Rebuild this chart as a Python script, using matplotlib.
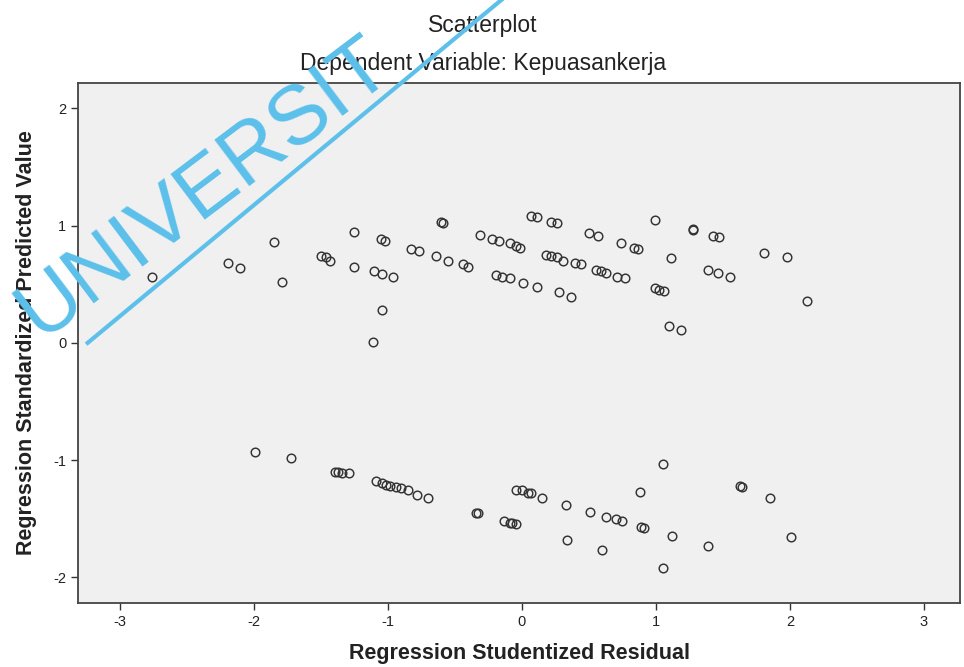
import matplotlib
matplotlib.use("Agg")
import matplotlib.pyplot as plt
from matplotlib import font_manager
from matplotlib.lines import Line2D

# --- Data ---
resid_upper = [-2.76, -2.19, -2.10, -1.85, -1.79, -1.50, -1.46, -1.43, -1.25, -1.25,
               -1.05, -1.02, -1.10, -1.04, -0.96, -1.04, -1.11, -0.60, -0.59, -0.83,
               -0.77, -0.64, -0.55, -0.44, -0.40, -0.31, -0.22, -0.17, -0.09, -0.04,
               -0.01, 0.07, 0.11, 0.22, 0.26, -0.19, -0.15, -0.09, 0.01, 0.11,
               0.18, 0.22, 0.26, 0.31, 0.40, 0.44, 0.28, 0.37, 0.50, 0.57,
               0.74, 0.84, 0.87, 0.55, 0.59, 0.63, 0.71, 0.77, 0.99, 0.99,
               1.02, 1.06, 1.11, 1.28, 1.28, 1.43, 1.47, 1.39, 1.46, 1.55,
               1.81, 1.98, 2.13, 1.10, 1.19]
pred_upper = [0.56, 0.68, 0.64, 0.86, 0.52, 0.74, 0.73, 0.70, 0.95, 0.65,
              0.89, 0.87, 0.61, 0.59, 0.56, 0.28, 0.01, 1.03, 1.02, 0.80,
              0.78, 0.74, 0.70, 0.67, 0.65, 0.92, 0.89, 0.87, 0.85, 0.83,
              0.81, 1.08, 1.07, 1.03, 1.02, 0.58, 0.56, 0.55, 0.51, 0.48,
              0.75, 0.74, 0.73, 0.70, 0.68, 0.67, 0.43, 0.39, 0.94, 0.91,
              0.85, 0.81, 0.80, 0.62, 0.61, 0.60, 0.56, 0.55, 1.05, 0.47,
              0.45, 0.44, 0.72, 0.97, 0.96, 0.91, 0.90, 0.62, 0.60, 0.56,
              0.77, 0.73, 0.36, 0.14, 0.11]
resid_lower = [-1.99, -1.72, -1.39, -1.37, -1.34, -1.29, -1.09, -1.04, -1.01, -0.98,
               -0.94, -0.90, -0.85, -0.78, -0.70, -0.34, -0.33, -0.04, 0.00, 0.05,
               0.07, 0.15, 0.33, -0.13, -0.09, -0.07, -0.04, 0.34, 0.51, 0.63,
               0.70, 0.75, 0.60, 0.88, 0.89, 0.91, 1.05, 1.12, 1.05, 1.39,
               1.63, 1.64, 1.85, 2.01]
pred_lower = [-0.93, -0.98, -1.10, -1.10, -1.11, -1.11, -1.18, -1.20, -1.21, -1.22,
              -1.23, -1.24, -1.26, -1.30, -1.32, -1.45, -1.45, -1.26, -1.26, -1.28,
              -1.28, -1.32, -1.38, -1.52, -1.54, -1.54, -1.55, -1.68, -1.44, -1.49,
              -1.50, -1.52, -1.77, -1.27, -1.57, -1.58, -1.03, -1.65, -1.92, -1.73,
              -1.22, -1.23, -1.32, -1.66]
x_ticks = [-3, -2, -1, 0, 1, 2, 3]
y_ticks = [-2, -1, 0, 1, 2]

names = {f.name for f in font_manager.fontManager.ttflist}
narrow = "Liberation Sans Narrow" if "Liberation Sans Narrow" in names else "Liberation Sans"
fam = [narrow, "DejaVu Sans"]
plt.rcParams["font.family"] = ["Liberation Sans", "DejaVu Sans"]

fig = plt.figure(figsize=(9.64, 6.67), dpi=100)
fig.patch.set_facecolor("white")
ax = fig.add_axes([0.081, 0.096, 0.915, 0.780])
ax.set_facecolor("#f0f0f0")

xs = resid_upper + resid_lower
ys = pred_upper + pred_lower
ax.plot(xs, ys, linestyle="none", marker="o", markersize=6.2,
        markerfacecolor="none", markeredgecolor="#333333", markeredgewidth=1.05)

ax.set_xlim(-3.31, 3.27)
ax.set_ylim(-2.22, 2.22)
ax.set_xticks(x_ticks)
ax.set_yticks(y_ticks)
ax.set_xticklabels([str(t) for t in x_ticks], family=fam)
ax.set_yticklabels([str(t) for t in y_ticks], family=fam)
ax.tick_params(direction="out", length=5, width=1, colors="#333333",
               labelsize=10.5, labelcolor="#222222")
for s in ax.spines.values():
    s.set_color("#444444")
    s.set_linewidth(1.3)

ax.set_xlabel("Regression Studentized Residual", fontsize=15.5, fontweight="bold",
              family=fam, color="#222222", labelpad=10)
ax.set_ylabel("Regression Standardized Predicted Value", fontsize=15.5,
              fontweight="bold", family=fam, color="#222222", labelpad=12)

fig.text(0.501, 0.962, "Scatterplot", ha="center", va="center", fontsize=16.5,
         family=fam, color="#222222")
fig.text(0.501, 0.905, "Dependent Variable: Kepuasankerja", ha="center",
         va="center", fontsize=16.5, family=fam, color="#222222")

# watermark
wm_color = "#5cc0ea"
fig.text(0.042, 0.492, "UNIVERSIT", rotation=37, rotation_mode="anchor",
         fontsize=60, color=wm_color, ha="left", va="baseline", zorder=10)
fig.add_artist(Line2D([0.091, 0.52], [0.486, 1.0], transform=fig.transFigure,
                      color=wm_color, linewidth=3, zorder=10))

fig.savefig("out.png", dpi=100)
